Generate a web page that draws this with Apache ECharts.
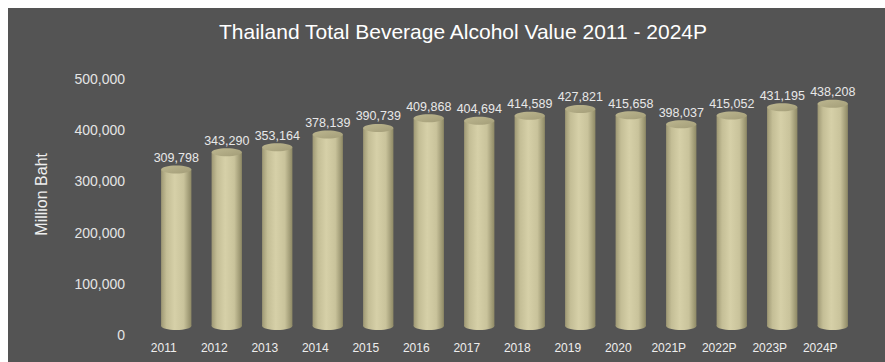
<!DOCTYPE html>
<html>
<head>
<meta charset="utf-8">
<script src="https://cdn.jsdelivr.net/npm/echarts@6/dist/echarts.min.js"></script>
<style>
  html, body { margin: 0; padding: 0; background: #ffffff; width: 885px; height: 362px; overflow: hidden; }
  #chart { position: absolute; left: 8px; top: 8px; width: 877px; height: 354px; }
</style>
</head>
<body>
<div id="chart"></div>
<script>
const categories = ['2011','2012','2013','2014','2015','2016','2017','2018','2019','2020','2021P','2022P','2023P','2024P'];
const values = [309798, 343290, 353164, 378139, 390739, 409868, 404694, 414589, 427821, 415658, 398037, 415052, 431195, 438208];
const yTicks = [0, 100000, 200000, 300000, 400000, 500000];
const titleText = 'Thailand Total Beverage Alcohol Value 2011 - 2024P';
const yAxisTitle = 'Million Baht';

const fmt = v => v.toLocaleString('en-US');
const chart = echarts.init(document.getElementById('chart'), null, { renderer: 'svg' });

function bodyGrad() {
  return new echarts.graphic.LinearGradient(0, 0, 1, 0, [
    { offset: 0, color: '#9e9874' },
    { offset: 0.18, color: '#c4be96' },
    { offset: 0.45, color: '#d6d0a8' },
    { offset: 0.75, color: '#c9c39b' },
    { offset: 1, color: '#8e8965' }
  ]);
}
function topGrad() {
  return new echarts.graphic.LinearGradient(0, 0, 1, 1, [
    { offset: 0, color: '#bdb790' },
    { offset: 1, color: '#a39d78' }
  ]);
}

chart.setOption({
  backgroundColor: '#545454',
  animation: false,
  title: {
    text: titleText,
    left: 450, top: 8, textAlign: 'center',
    textStyle: { color: '#ffffff', fontSize: 21, fontWeight: 'normal', fontFamily: 'Liberation Sans Narrow, Arial Narrow, Liberation Sans, sans-serif' }
  },
  grid: { left: 143, right: 27, top: 71, bottom: 27 },
  xAxis: {
    type: 'category',
    data: categories,
    axisLine: { show: false },
    axisTick: { show: false },
    axisLabel: { color: '#eeeeee', fontSize: 12, fontFamily: 'Liberation Sans, Arial, sans-serif', margin: 7, padding: [0, 25, 0, 0] }
  },
  yAxis: {
    type: 'value',
    min: yTicks[0], max: yTicks[yTicks.length - 1], interval: 100000,
    splitLine: { show: false },
    axisLine: { show: false },
    axisTick: { show: false },
    axisLabel: { color: '#e4e4e4', fontSize: 14, fontFamily: 'Liberation Sans, Arial, sans-serif', margin: 26, formatter: v => fmt(v) }
  },
  graphic: [{
    type: 'text', left: 25, top: 145, rotation: Math.PI / 2,
    style: { text: yAxisTitle, fill: '#eeeeee', font: '16px Liberation Sans, Arial, sans-serif' }
  }],
  series: [{
    type: 'custom',
    data: values.map((v, i) => [i, v]),
    encode: { x: 0, y: 1 },
    renderItem: function (params, api) {
      const top = api.coord([api.value(0), api.value(1)]);
      const base = api.coord([api.value(0), 0]);
      const x = top[0];
      const yTop = top[1] - 7;
      const yBot = base[1] - 9;
      const w = api.size([1, 0])[0] * 0.6;
      const rx = w / 2, ry = 4;
      return {
        type: 'group',
        children: [
          { type: 'rect', shape: { x: x - rx, y: yTop, width: w, height: yBot - yTop }, style: { fill: bodyGrad() } },
          { type: 'ellipse', shape: { cx: x, cy: yBot, rx: rx, ry: ry }, style: { fill: bodyGrad() } },
          { type: 'ellipse', shape: { cx: x, cy: yTop, rx: rx, ry: ry }, style: { fill: topGrad() } },
          { type: 'text', style: { text: fmt(api.value(1)), x: x, y: yTop - ry - 1, align: 'center', verticalAlign: 'bottom', fill: '#e8e8e8', font: '12.5px Liberation Sans, Arial, sans-serif' } }
        ]
      };
    }
  }]
});
</script>
</body>
</html>
